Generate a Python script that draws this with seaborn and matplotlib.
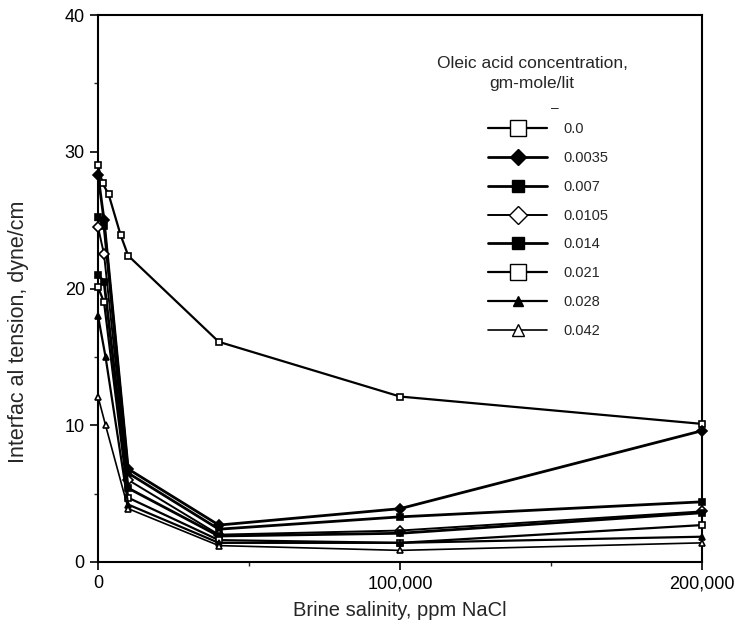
import matplotlib
matplotlib.use("Agg")
import matplotlib.pyplot as plt
from matplotlib.lines import Line2D
import seaborn as sns
import pandas as pd

# ---- data ----
conc_labels = ["0.0", "0.0035", "0.007", "0.0105", "0.014", "0.021", "0.028", "0.042"]

x_c0 = [0, 1500, 3500, 7500, 10000, 40000, 100000, 200000]
y_c0 = [29.0, 27.7, 26.9, 23.9, 22.4, 16.1, 12.1, 10.1]

x_common = [0, 2000, 10000, 40000, 100000, 200000]
y_c0035 = [28.3, 25.0, 6.8, 2.7, 3.9, 9.6]
y_c007 = [25.2, 24.6, 6.5, 2.4, 3.3, 4.4]
y_c0105 = [24.5, 22.5, 6.0, 2.0, 2.3, 3.7]
y_c014 = [21.0, 20.5, 5.4, 1.9, 2.1, 3.6]
y_c021 = [20.1, 19.0, 4.7, 1.6, 1.4, 2.7]
x_low = [0, 2500, 10000, 40000, 100000, 200000]
y_c028 = [18.0, 15.0, 4.2, 1.4, 1.4, 1.85]
y_c042 = [12.1, 10.0, 3.9, 1.2, 0.85, 1.4]

x_ticks = [0, 100000, 200000]
x_ticklabels = ["0", "100,000", "200,000"]
y_ticks = [0, 10, 20, 30, 40]

series = [
    (x_c0, y_c0), (x_common, y_c0035), (x_common, y_c007), (x_common, y_c0105),
    (x_common, y_c014), (x_common, y_c021), (x_low, y_c028), (x_low, y_c042),
]

# styles: marker, facecolor, plot markersize, legend markersize, linewidth
styles = [
    ("s", "white", 5, 11, 1.6),
    ("D", "black", 5, 8, 2.0),
    ("s", "black", 5, 8, 2.0),
    ("D", "white", 5, 9, 1.4),
    ("s", "black", 5, 8, 2.0),
    ("s", "white", 5, 11, 1.6),
    ("^", "black", 5, 7, 1.6),
    ("^", "white", 5, 8, 1.2),
]

sns.set_theme(style="ticks")
plt.rcParams["font.family"] = ["Liberation Sans", "DejaVu Sans"]

fig = plt.figure(figsize=(7.34, 6.3), dpi=100)
ax = fig.add_axes([98 / 734, 1 - 562 / 630, 604 / 734, 547 / 630])

for (xs, ys), lab, (mk, fc, ms, lms, lw) in zip(series, conc_labels, styles):
    df = pd.DataFrame({"x": xs, "y": ys})
    sns.lineplot(data=df, x="x", y="y", ax=ax, color="black", linewidth=lw,
                 marker=mk, markersize=ms, markerfacecolor=fc,
                 markeredgecolor="black", markeredgewidth=1.2, sort=False,
                 estimator=None, clip_on=False, zorder=3)

ax.set_xlim(0, 200000)
ax.set_ylim(0, 40)
ax.set_xticks(x_ticks)
ax.set_xticklabels(x_ticklabels)
ax.set_xticks([50000, 150000], minor=True)
ax.set_yticks(y_ticks)
ax.set_yticks([5, 15, 25, 35], minor=True)
ax.tick_params(axis="both", which="major", direction="out", length=6, width=1.2,
               labelsize=13, colors="black")
ax.tick_params(axis="both", which="minor", direction="out", length=3, width=1.0)
for sp in ax.spines.values():
    sp.set_linewidth(1.5)
    sp.set_color("black")
    sp.set_visible(True)

ax.set_xlabel("Brine salinity, ppm NaCl", fontsize=14.5, labelpad=6)
ax.set_ylabel("Interfac al tension, dyne/cm", fontsize=15.5)
ax.yaxis.set_label_coords(-0.115, 0.42)

# legend title as text
ax.text((532 - 98) / 604, (562 - 56) / 547, "Oleic acid concentration,\ngm-mole/lit",
        transform=ax.transAxes, ha="center", va="top", fontsize=12.5,
        linespacing=1.45, multialignment="center")
ax.text((555 - 98) / 604, (562 - 108) / 547, "–", transform=ax.transAxes,
        ha="center", va="center", fontsize=10)

handles = []
for lab, (mk, fc, ms, lms, lw) in zip(conc_labels, styles):
    handles.append(Line2D([0], [0], color="black", linewidth=lw, marker=mk,
                          markersize=lms, markerfacecolor=fc,
                          markeredgecolor="black", markeredgewidth=1.0))
leg = ax.legend(handles, conc_labels, loc="upper left",
                bbox_to_anchor=((488 - 98) / 604, (562 - 122) / 547),
                frameon=False, borderpad=0, borderaxespad=0,
                fontsize=10.5, handlelength=4.05,
                handletextpad=1.1, labelspacing=1.02)

fig.savefig("out.png", dpi=100)
